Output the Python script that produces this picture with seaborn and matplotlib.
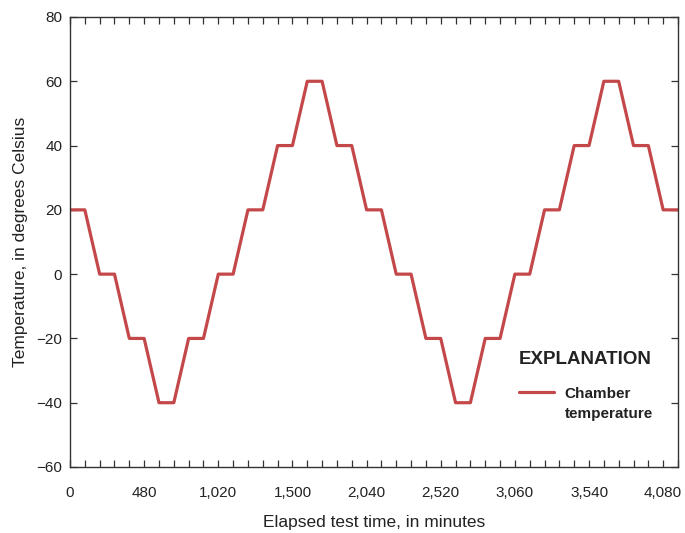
import matplotlib
matplotlib.use("Agg")
import matplotlib.pyplot as plt
import seaborn as sns
import pandas as pd
from matplotlib.ticker import FixedLocator, MultipleLocator
from matplotlib.legend_handler import HandlerLine2D

# Data (x in axis units, temperature in degrees Celsius)
time_min = [0, 102, 204, 306, 408, 510, 612, 714, 816, 918, 1020, 1122, 1224, 1326,
            1428, 1530, 1632, 1734, 1836, 1938, 2040, 2142, 2244, 2346, 2448, 2550,
            2652, 2754, 2856, 2958, 3060, 3162, 3264, 3366, 3468, 3570, 3672, 3774,
            3876, 3978, 4080, 4182]
temperature = [20, 20, 0, 0, -20, -20, -40, -40, -20, -20, 0, 0, 20, 20,
               40, 40, 60, 60, 40, 40, 20, 20, 0, 0, -20, -20,
               -40, -40, -20, -20, 0, 0, 20, 20, 40, 40, 60, 60,
               40, 40, 20, 20]
xtick_pos = [0, 510, 1020, 1530, 2040, 2550, 3060, 3570, 4080]
xtick_labels = ["0", "480", "1,020", "1,500", "2,040", "2,520", "3,060", "3,540", "4,080"]
ytick_vals = [-60, -40, -20, 0, 20, 40, 60, 80]
ytick_labels = ["\u221260", "\u221240", "\u221220", "0", "20", "40", "60", "80"]


class RaisedLineHandler(HandlerLine2D):
    """Legend line aligned with the first text line."""
    def create_artists(self, legend, orig_handle, xdescent, ydescent, width,
                       height, fontsize, trans):
        arts = super().create_artists(legend, orig_handle, xdescent, ydescent,
                                      width, height, fontsize, trans)
        for a in arts:
            yd = a.get_ydata()
            a.set_ydata([y + 8.5 for y in yd])
        return arts


sns.set_style("white")
plt.rcParams['font.family'] = ['Liberation Sans', 'DejaVu Sans']

df = pd.DataFrame({"Elapsed": time_min, "Temperature": temperature})

fig = plt.figure(figsize=(6.85, 5.33), dpi=100)
ax = fig.add_axes([70/685, 1-467/533, 608/685, 450/533])

sns.lineplot(data=df, x="Elapsed", y="Temperature", ax=ax, color="#c4484a",
             linewidth=2.3, label="Chamber\ntemperature")

ax.set_xlim(0, 4182)
ax.set_ylim(-60, 80)

spine_c = "#333333"
for s in ax.spines.values():
    s.set_color(spine_c)
    s.set_linewidth(1.0)
    s.set_visible(True)

ax.xaxis.set_major_locator(FixedLocator(xtick_pos))
ax.set_xticklabels(xtick_labels)
ax.xaxis.set_minor_locator(MultipleLocator(102))
ax.set_yticks(ytick_vals)
ax.set_yticklabels(ytick_labels)

ax.tick_params(axis="x", which="both", direction="in", top=True, bottom=True,
               length=5, width=0.9, color=spine_c, labelsize=11, pad=13.5,
               labelcolor="#222222")
ax.tick_params(axis="y", which="both", direction="in", left=True, right=True,
               length=5, width=0.9, color=spine_c, labelsize=11, pad=5.5,
               labelcolor="#222222")

ax.set_xlabel("Elapsed test time, in minutes", fontsize=12.5, color="#222222", labelpad=11)
ax.set_ylabel("Temperature, in degrees Celsius", fontsize=12.5, color="#222222", labelpad=6)

handles, labels = ax.get_legend_handles_labels()
leg = ax.legend(handles, labels, title="EXPLANATION", frameon=False, loc="upper left",
                bbox_to_anchor=(519/685, 1-351/533), bbox_transform=fig.transFigure,
                borderpad=0, borderaxespad=0,
                handlelength=2.3, handletextpad=0.7,
                handler_map={handles[0]: RaisedLineHandler()},
                prop={"weight": "bold", "size": 11},
                title_fontproperties={"weight": "bold", "size": 13.5})
leg._legend_box.align = "left"
leg._legend_box.sep = 13.5
for t in leg.get_texts():
    t.set_color("#222222")
    t.set_linespacing(1.55)
leg.get_title().set_color("#222222")

fig.savefig("out.png", dpi=100)
